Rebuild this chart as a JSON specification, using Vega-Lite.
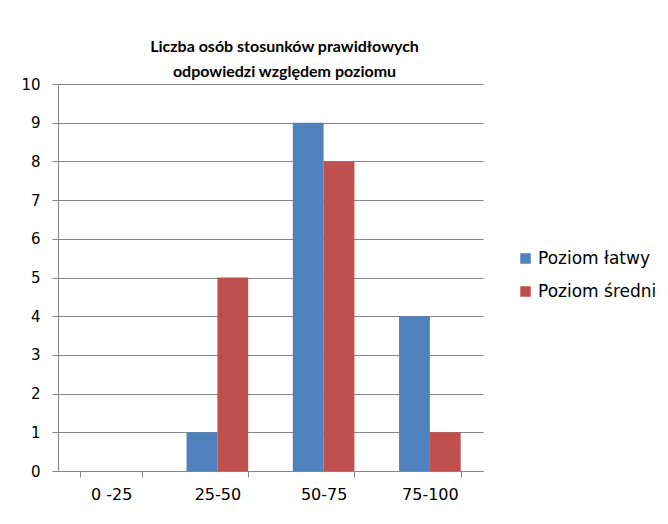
{
  "$schema": "https://vega.github.io/schema/vega-lite/v6.json",
  "autosize": "none",
  "width": 425,
  "height": 387,
  "padding": {"left": 58, "top": 84, "right": 185, "bottom": 53},
  "background": "white",
  "title": {
    "text": ["Liczba osób stosunków prawidłowych", "odpowiedzi względem poziomu"],
    "font": "Lato",
    "fontSize": 16,
    "fontWeight": "bold",
    "color": "#000000",
    "anchor": "middle",
    "dx": 14,
    "offset": -3,
    "lineHeight": 25
  },
  "data": {
    "values": [
      {"przedzial": "0 -25", "seria": "Poziom łatwy", "liczba": 0},
      {"przedzial": "0 -25", "seria": "Poziom średni", "liczba": 0},
      {"przedzial": "25-50", "seria": "Poziom łatwy", "liczba": 1},
      {"przedzial": "25-50", "seria": "Poziom średni", "liczba": 5},
      {"przedzial": "50-75", "seria": "Poziom łatwy", "liczba": 9},
      {"przedzial": "50-75", "seria": "Poziom średni", "liczba": 8},
      {"przedzial": "75-100", "seria": "Poziom łatwy", "liczba": 4},
      {"przedzial": "75-100", "seria": "Poziom średni", "liczba": 1}
    ]
  },
  "mark": {"type": "bar"},
  "encoding": {
    "x": {
      "field": "przedzial",
      "type": "nominal",
      "sort": ["0 -25", "25-50", "50-75", "75-100"],
      "scale": {"paddingInner": 0.42, "paddingOuter": 0.21},
      "axis": {
        "title": null,
        "labelAngle": 0,
        "labelFont": "DejaVu Sans",
        "labelFontSize": 16,
        "labelColor": "#000000",
        "labelPadding": 9,
        "tickBand": "extent",
        "tickSize": 6,
        "tickColor": "#868686",
        "domainColor": "#868686",
        "grid": false
      }
    },
    "xOffset": {
      "field": "seria",
      "type": "nominal",
      "sort": ["Poziom łatwy", "Poziom średni"],
      "scale": {"paddingInner": 0, "paddingOuter": 0}
    },
    "y": {
      "field": "liczba",
      "type": "quantitative",
      "scale": {"domain": [0, 10], "nice": false},
      "axis": {
        "title": null,
        "values": [0, 1, 2, 3, 4, 5, 6, 7, 8, 9, 10],
        "labelFont": "DejaVu Sans",
        "labelFontSize": 15,
        "labelColor": "#000000",
        "labelPadding": 12,
        "tickSize": 6,
        "tickColor": "#868686",
        "domainColor": "#868686",
        "grid": true,
        "gridColor": "#868686"
      }
    },
    "color": {
      "field": "seria",
      "type": "nominal",
      "sort": ["Poziom łatwy", "Poziom średni"],
      "scale": {"range": ["#4F81BD", "#C0504D"]},
      "legend": {
        "title": null,
        "orient": "none",
        "legendX": 459,
        "legendY": 166,
        "symbolType": "square",
        "symbolSize": 110,
        "symbolStrokeWidth": 0,
        "labelFont": "DejaVu Sans",
        "labelFontSize": 17,
        "labelColor": "#000000",
        "labelOffset": 4,
        "rowPadding": 15
      }
    }
  },
  "config": {"view": {"stroke": null}}
}
